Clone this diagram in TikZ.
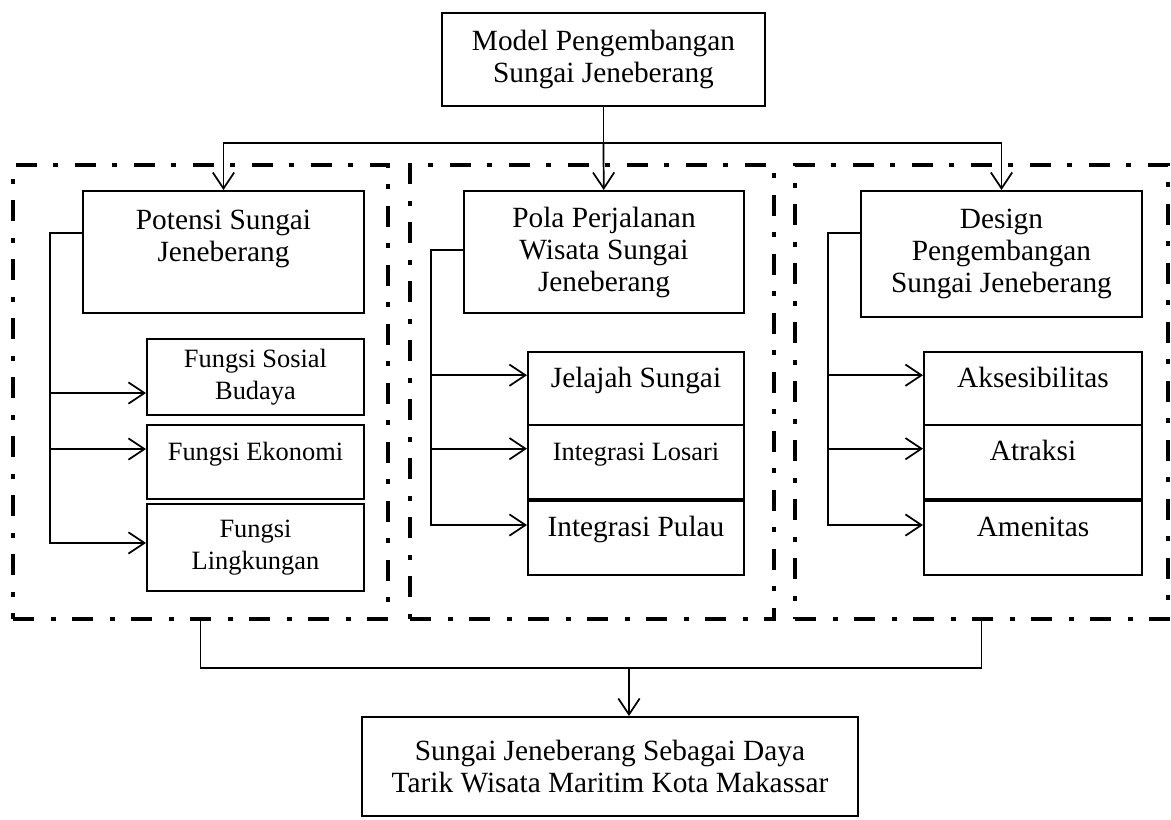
\documentclass[tikz,border=0pt]{standalone}
\usepackage{fontspec}
\setmainfont{Liberation Serif}
\usetikzlibrary{arrows.meta}

\newcommand{\bigtxt}{\fontsize{22}{24}\selectfont}
\newcommand{\smalltxt}{\fontsize{19.8}{24}\selectfont}

\begin{document}
\begin{tikzpicture}[x=0.75pt,y=-0.75pt,
    box/.style={draw, line width=1.5pt, inner sep=0pt, align=center, font=\bigtxt},
    hi/.style={text height=15pt, text depth=17pt},
    zone/.style={draw, line width=3.5pt, inner sep=0pt, outer sep=0pt,
      dash pattern=on 15.75pt off 12.75pt on 3.75pt off 12pt},
    link/.style={line width=1.3pt},
    arr/.style={line width=1.3pt, -{Straight Barb[length=12pt,width=16pt]}}]
      \useasboundingbox (0,0) rectangle (1171,819);

      % dash-dot zones
      \node[zone, minimum width=281.25pt, minimum height=340.5pt] (f1) at (200.5,392) {};
      \node[zone, minimum width=273pt, minimum height=340.5pt] (f2) at (592,392) {};
      \node[zone, minimum width=279.75pt, minimum height=340.5pt] (f3) at (981.5,392) {};

      \node[box, minimum width=242.25pt, minimum height=69.75pt] (model) at (603.5,59.5) {Model Pengembangan\\Sungai Jeneberang};

      \node[box, minimum width=210.75pt, minimum height=91.5pt] (pot) at (223.5,252) {Potensi Sungai\\Jeneberang\\\mbox{}};
      \node[box, minimum width=210pt, minimum height=91.5pt] (pola) at (604,252) {Pola Perjalanan\\Wisata Sungai\\Jeneberang};
      \node[box, minimum width=210.75pt, minimum height=94.5pt] (des) at (1001.5,254) {Design\\Pengembangan\\Sungai Jeneberang};

      \node[box, font=\smalltxt, minimum width=162.75pt, minimum height=57pt] (sos) at (255.5,377) {Fungsi Sosial\\Budaya};
      \node[box, font=\smalltxt, hi, minimum width=162.75pt, minimum height=55.5pt] (eko) at (255.5,462) {Fungsi Ekonomi};
      \node[box, font=\smalltxt, minimum width=162.75pt, minimum height=65.25pt] (lin) at (255.5,547.5) {Fungsi\\Lingkungan};

      \node[box, hi, minimum width=162pt, minimum height=54.75pt] (jel) at (636,388.5) {Jelajah Sungai};
      \node[box, font=\smalltxt, hi, minimum width=162pt, minimum height=55.5pt] (los) at (636,462) {Integrasi Losari};
      \node[box, hi, minimum width=162pt, minimum height=55.5pt] (pul) at (636,538) {Integrasi Pulau};

      \node[box, hi, minimum width=163.5pt, minimum height=54.75pt] (aks) at (1033,388.5) {Aksesibilitas};
      \node[box, hi, minimum width=163.5pt, minimum height=55.5pt] (atr) at (1033,462) {Atraksi};
      \node[box, hi, minimum width=163.5pt, minimum height=55.5pt] (ame) at (1033,538) {Amenitas};

      \node[box, minimum width=372pt, minimum height=74.25pt] (goal) at (610,766.5) {Sungai Jeneberang Sebagai Daya\\Tarik Wisata Maritim Kota Makassar};

      % top split
      \coordinate (hub) at (603.5,143);
      \draw[link] (model) -- (hub);
      \draw[arr] (hub) -| (pot);
      \draw[arr] (hub) -- (pola);
      \draw[arr] (hub) -| (des);

      % branches inside each zone
      \draw[arr] ([yshift=14.25pt]pot.west) -- ++(-32,0) |- ([yshift=3.4pt]lin.west);
      \foreach \b/\s in {sos/-12pt, eko/9.75pt}
        \draw[arr] ([xshift=-72pt,yshift=\s]\b.west) -- ([yshift=\s]\b.west);

      \draw[arr] ([yshift=1.5pt]pola.west) -- ++(-32,0) |- ([yshift=9.75pt]pul.west);
      \foreach \b in {jel, los}
        \draw[arr] ([xshift=-72pt,yshift=10pt]\b.west) -- ([yshift=10pt]\b.west);

      \draw[arr] ([yshift=15.75pt]des.west) -- ++(-32,0) |- ([yshift=9.75pt]ame.west);
      \foreach \b in {aks, atr}
        \draw[arr] ([xshift=-71pt,yshift=10pt]\b.west) -- ([yshift=10pt]\b.west);

      % merge into the goal
      \draw[link] (f1.south) -- ++(0,49) -| (f3.south);
      \coordinate (mid) at (629,668);
      \draw[arr] (mid) -- (mid |- goal.north);
    \end{tikzpicture}
\end{document}
